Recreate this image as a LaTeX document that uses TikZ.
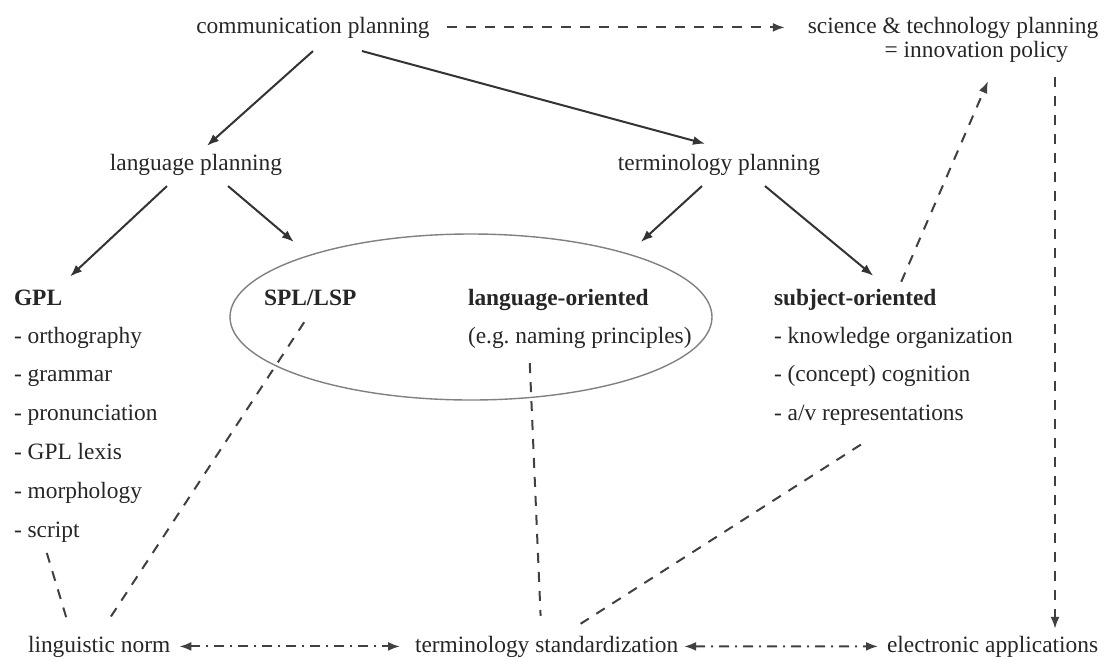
\documentclass[tikz,border=0pt]{standalone}
\usepackage{fontspec}
\setmainfont{Liberation Serif}
\usetikzlibrary{arrows.meta,shapes.geometric}

\begin{document}
\begin{tikzpicture}[
    x = 0.5pt, y = -0.5pt,
    > = {Latex[length=6pt,width=4.5pt]},
    line width = 1pt,
    % plain text, placed by its baseline
    txt/.style = {inner sep = 0pt, anchor = base, text = black!85,
      font = \fontsize{11.7}{12}\selectfont},
    lft/.style = {txt, anchor = base west},
    hd/.style = {lft, font = \fontsize{11.7}{12}\selectfont\bfseries},
    arr/.style = {draw = black!80, ->},
    dsh/.style = {draw = black!75, dash pattern = on 5pt off 4.5pt},
    dd/.style = {draw = black!75, <->,
      dash pattern = on 5pt off 3pt on 1pt off 3pt},
    ]

    \useasboundingbox (0,0) rectangle (1106,659);

    % top row
    \node[txt] (comm) at (313,33) {communication planning};
    \node[txt, anchor = center, align = center] (sci) at (953,39.5)
      {science \& technology planning\\\hspace*{2em}= innovation policy};

    % planning row
    \node[txt] (lang) at (196,170) {language planning};
    \node[txt] (term) at (719,170) {terminology planning};

    \node[ellipse, draw = black!50, line width = 0.7pt, inner sep = 0pt,
      minimum width = 241pt, minimum height = 83pt] (ell) at (471,317) {};

    % the four columns
    \node[hd] (gpl) at (13,305) {GPL};
    \foreach \t [count=\i] in {orthography, grammar, pronunciation,
        GPL lexis, morphology, script}
      \node[lft] (gpl\i) at (13,{343+38.8*(\i-1)}) {- \t};

    \node[hd] (spl) at (263,305) {SPL/LSP};
    \node[hd] (lor) at (467,305) {language-oriented};
    \node[lft] (eg) at (467,343) {(e.g.\ naming principles)};

    \node[hd] (subj) at (773,305) {subject-oriented};
    \foreach \t [count=\i] in {knowledge organization, {(concept) cognition},
        a/v representations}
      \node[lft] (subj\i) at (773,{343+38.8*(\i-1)}) {- \t};

    % bottom row
    \node[lft] (ling) at (27,652) {linguistic norm};
    \node[lft] (tstd) at (414,652) {terminology standardization};
    \node[lft] (elec) at (886,652) {electronic applications};

    % solid arrows
    \draw[arr] ([yshift=-6pt]comm.south) -- ([xshift=5.5pt,yshift=3.5pt]lang.north);
    \draw[arr] ([xshift=24.5pt,yshift=-6pt]comm.south) -- ([xshift=-7pt,yshift=4.5pt]term.north);
    \draw[arr] ([xshift=-14.5pt,yshift=-5pt]lang.south) -- ([xshift=3.5pt,yshift=6pt]gpl.north east);
    \draw[arr, shorten >= 10pt] ([xshift=16pt,yshift=-5pt]lang.south) -- (ell.159);
    \draw[arr, shorten >= 8.5pt] ([xshift=-8.5pt,yshift=-5pt]term.south) -- (ell.22);
    \draw[arr] ([xshift=23pt,yshift=-5pt]term.south) -- ([xshift=9pt,yshift=6pt]subj.north);

    % dashed links
    \draw[dsh, ->, shorten <= 8pt, shorten >= 11pt] (comm.east) -- (comm.east -| sci.west);
    \draw[dsh, ->] ([xshift=23pt,yshift=3pt]subj.north) -- ([xshift=17.5pt,yshift=-9pt]sci.south);
    \draw[dsh, ->, shorten >= 3pt] ([xshift=51pt,yshift=-7pt]sci.south) coordinate (vtop)
      -- (vtop |- elec.north);
    \draw[dsh] ([yshift=-5pt]gpl6.south) -- ([xshift=-15.5pt,yshift=5.5pt]ling.north);
    \draw[dsh] ([xshift=-3pt,yshift=-8pt]spl.south) -- ([xshift=3.5pt,yshift=5.5pt]ling.north);
    \draw[dsh] ([xshift=-25pt,yshift=-7pt]eg.south) -- ([xshift=-3pt,yshift=9.5pt]tstd.north);
    \draw[dsh] ([xshift=-4pt,yshift=-9pt]subj3.south) -- ([xshift=17pt,yshift=5.5pt]tstd.north);

    % dash-dot arrows along the bottom
    \draw[dd, shorten <= 4pt, shorten >= 7pt] (ling.east) -- (tstd.west);
    \draw[dd, shorten <= 2.5pt, shorten >= 4pt] (tstd.east) -- (elec.west);
\end{tikzpicture}
\end{document}
